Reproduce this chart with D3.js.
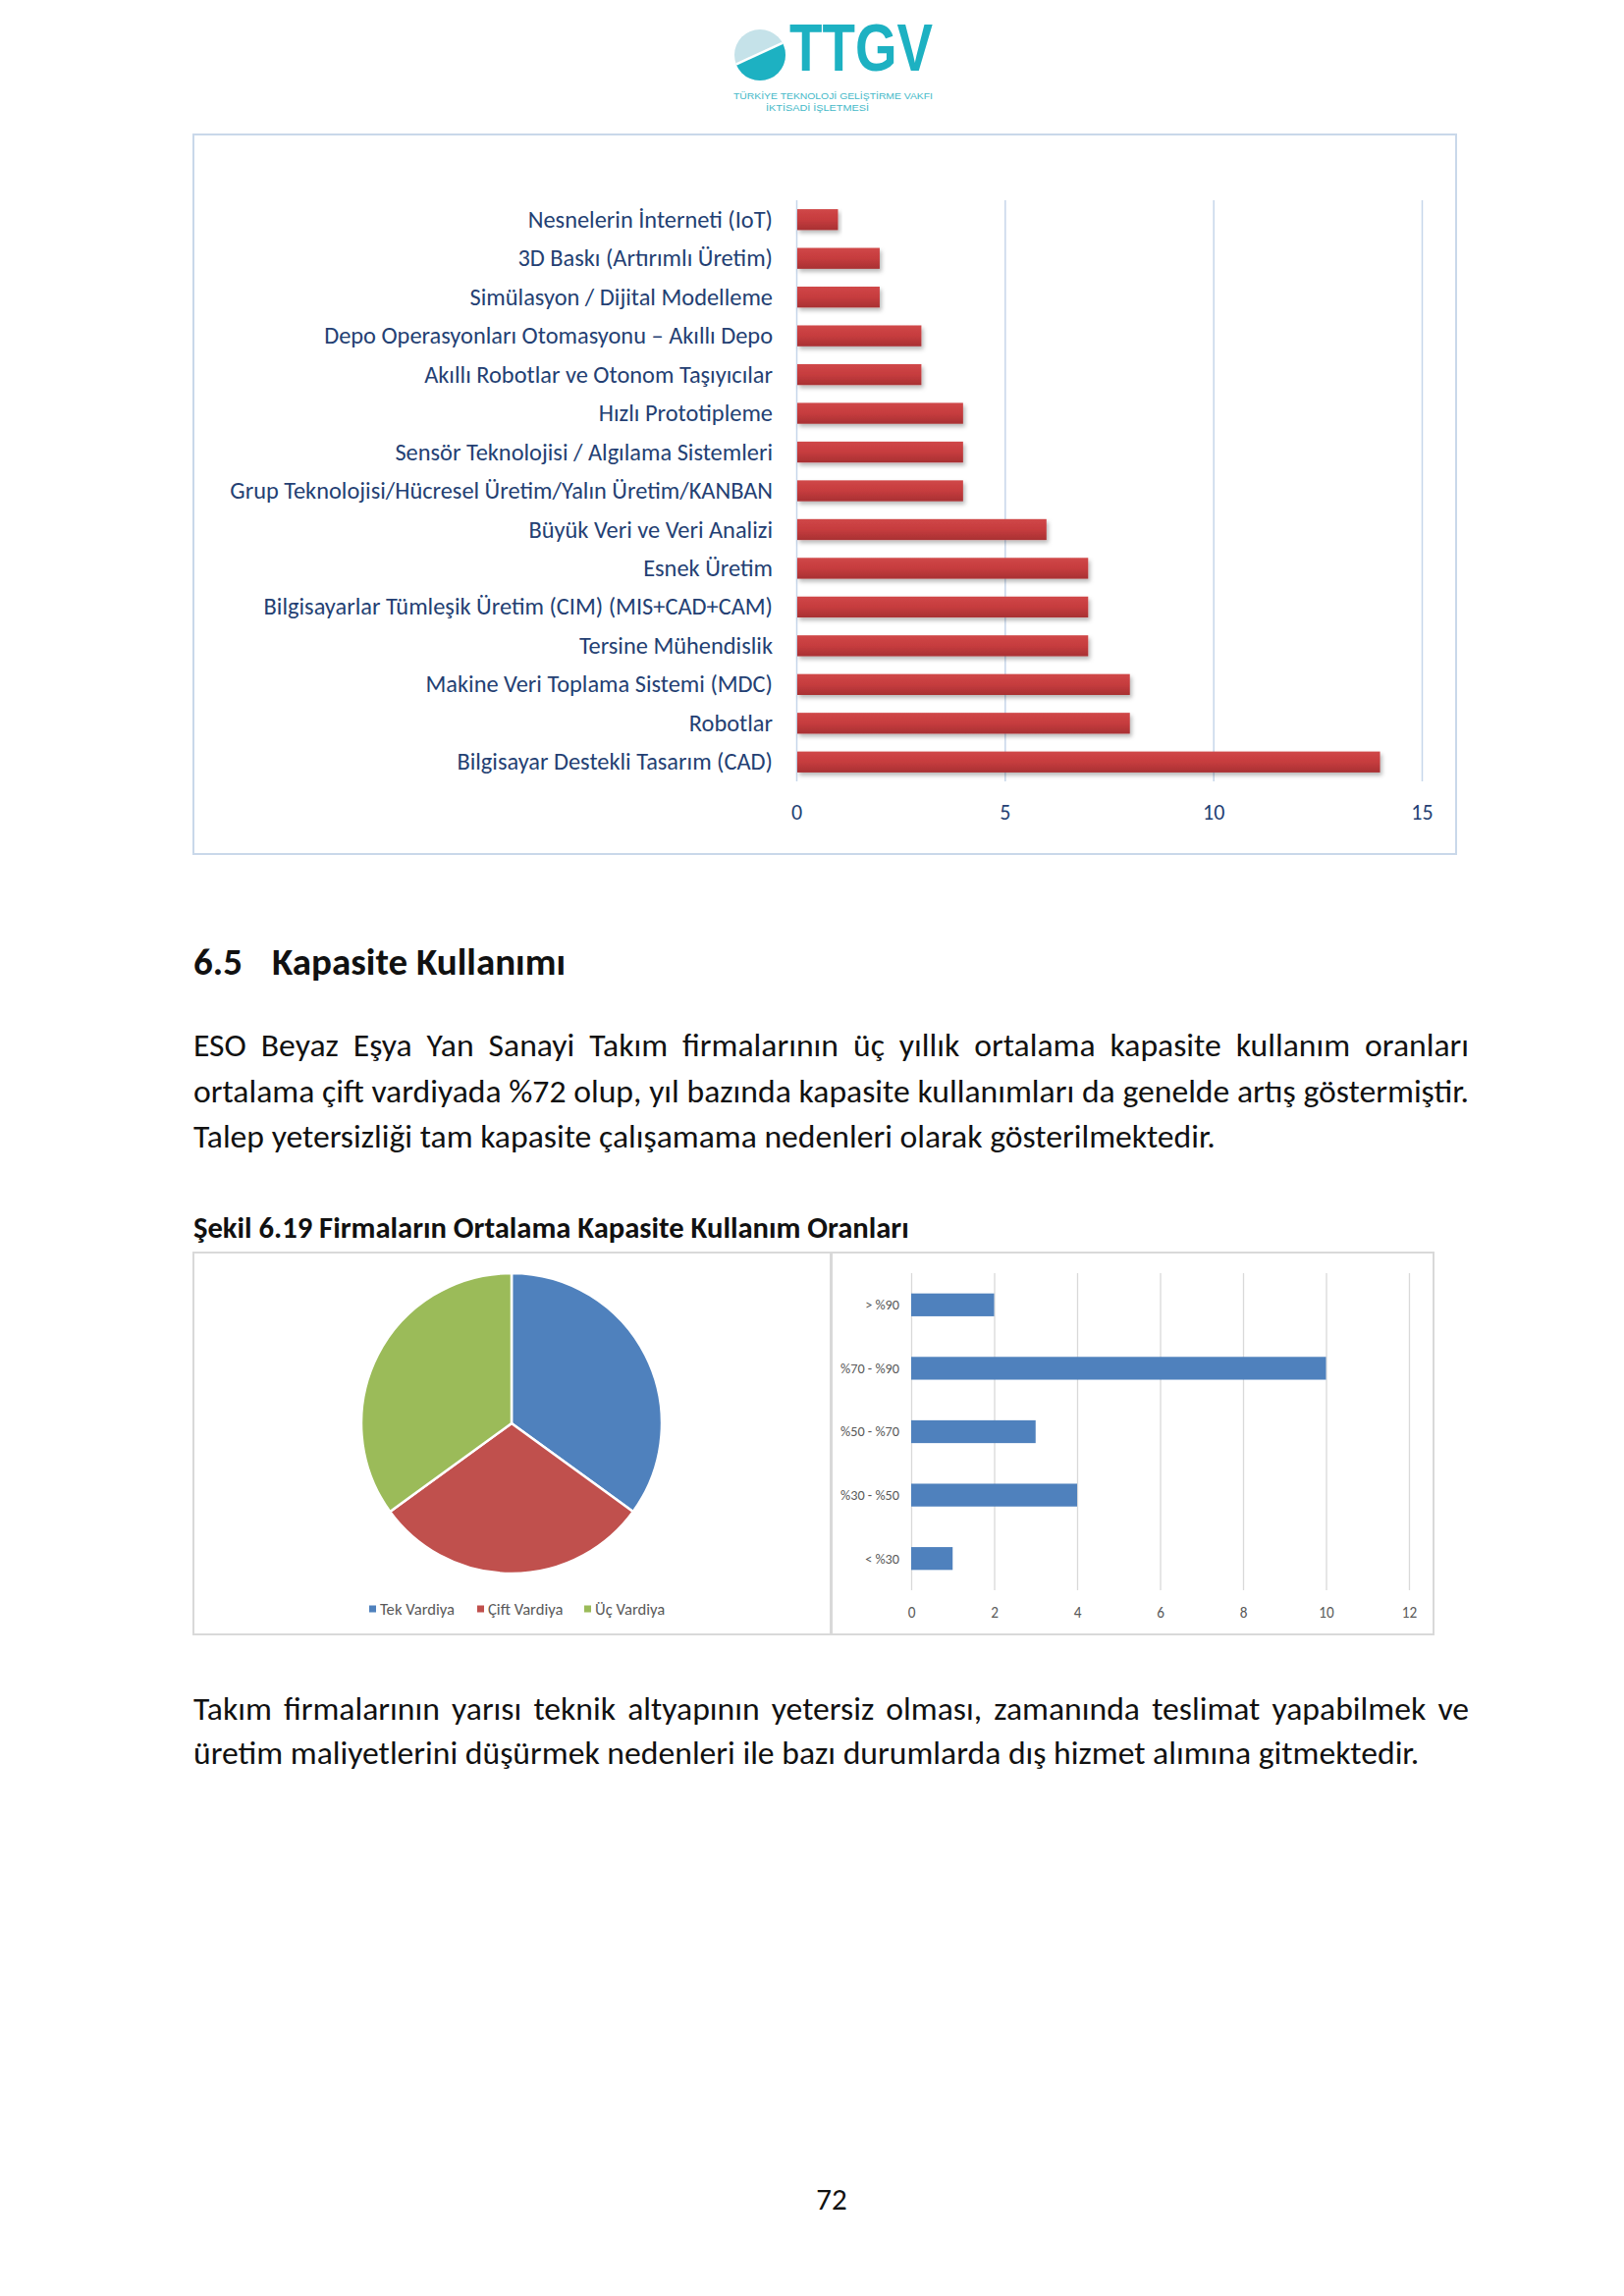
<!DOCTYPE html>
<html><head><meta charset="utf-8">
<script src="https://cdn.jsdelivr.net/npm/d3@7"></script>
<style>body{margin:0;background:#fff}svg{display:block}</style>
</head><body>
<svg id="page" width="1654" height="2339"></svg>
<script>
// ---------- DATA ----------
const techCategories = [
  "Nesnelerin İnterneti (IoT)",
  "3D Baskı (Artırımlı Üretim)",
  "Simülasyon / Dijital Modelleme",
  "Depo Operasyonları Otomasyonu – Akıllı Depo",
  "Akıllı Robotlar ve Otonom Taşıyıcılar",
  "Hızlı Prototipleme",
  "Sensör Teknolojisi / Algılama Sistemleri",
  "Grup Teknolojisi/Hücresel Üretim/Yalın Üretim/KANBAN",
  "Büyük Veri ve Veri Analizi",
  "Esnek Üretim",
  "Bilgisayarlar Tümleşik Üretim (CIM) (MIS+CAD+CAM)",
  "Tersine Mühendislik",
  "Makine Veri Toplama Sistemi (MDC)",
  "Robotlar",
  "Bilgisayar Destekli Tasarım (CAD)"
];
const techValues = [1, 2, 2, 3, 3, 4, 4, 4, 6, 7, 7, 7, 8, 8, 14];
const techTicks = [0, 5, 10, 15];

const shiftCategories = ["Tek Vardiya", "Çift Vardiya", "Üç Vardiya"];
const shiftValues = [7, 6, 7];

const rangeCategories = ["> %90", "%70 - %90", "%50 - %70", "%30 - %50", "< %30"];
const rangeValues = [2, 10, 3, 4, 1];
const rangeTicks = [0, 2, 4, 6, 8, 10, 12];

const logoText = "TTGV";
const logoSub1 = "TÜRKİYE TEKNOLOJİ GELİŞTİRME VAKFI";
const logoSub2 = "İKTİSADİ İŞLETMESİ";
const headingNum = "6.5";
const headingText = "Kapasite Kullanımı";
const para1Lines = [
  "ESO Beyaz Eşya Yan Sanayi Takım firmalarının üç yıllık ortalama kapasite kullanım oranları",
  "ortalama çift vardiyada %72 olup, yıl bazında kapasite kullanımları da genelde artış göstermiştir.",
  "Talep yetersizliği tam kapasite çalışamama nedenleri olarak gösterilmektedir."
];
const captionText = "Şekil 6.19 Firmaların Ortalama Kapasite Kullanım Oranları";
const para2Lines = [
  "Takım firmalarının yarısı teknik altyapının yetersiz olması, zamanında teslimat yapabilmek ve",
  "üretim maliyetlerini düşürmek nedenleri ile bazı durumlarda dış hizmet alımına gitmektedir."
];
const pageNumber = "72";

// ---------- HELPERS ----------
const FONT = "Carlito, Lato, 'Open Sans', sans-serif";
const svg = d3.select("#page").attr("font-family", FONT);
svg.append("rect").attr("width", 1654).attr("height", 2339).attr("fill", "#fff");

function sizeFor(str, baseSize, weight, target) {
  const t = svg.append("text").attr("font-size", baseSize).attr("font-weight", weight).text(str);
  const w = t.node().getComputedTextLength();
  t.remove();
  return baseSize * target / w;
}
function justifyLine(g, str, x0, x1, y, size, weight, justify) {
  const words = str.split(" ");
  const nodes = words.map(w => g.append("text").attr("font-size", size).attr("font-weight", weight)
    .attr("y", y).attr("fill", "#111").text(w));
  const widths = nodes.map(n => n.node().getComputedTextLength());
  const sum = d3.sum(widths);
  const space = size * 0.226;
  const gap = justify ? (x1 - x0 - sum) / (words.length - 1) : space;
  let x = x0;
  nodes.forEach((n, i) => { n.attr("x", x); x += widths[i] + gap; });
}

// ---------- LOGO ----------
const logo = svg.append("g");
const teal = "#1db1c2";
logo.append("clipPath").attr("id", "logoClip").append("circle").attr("cx", 774).attr("cy", 56).attr("r", 26);
logo.append("circle").attr("cx", 774).attr("cy", 56).attr("r", 26).attr("fill", "#c5e2e9");
logo.append("path").attr("clip-path", "url(#logoClip)")
  .attr("d", "M740,70 L805,40 L805,90 L740,90 Z").attr("fill", teal);
logo.append("path").attr("clip-path", "url(#logoClip)")
  .attr("d", "M740,70 L805,40").attr("stroke", "#fff").attr("stroke-width", 2.5);
logo.append("text").attr("x", 804).attr("y", 72).attr("font-family", "'Liberation Sans', Arial, sans-serif")
  .attr("font-weight", "bold").attr("font-size", 68).attr("fill", teal)
  .attr("textLength", 146).attr("lengthAdjust", "spacingAndGlyphs").text(logoText);
logo.append("text").attr("x", 747).attr("y", 101).attr("font-family", "'Liberation Sans', Arial, sans-serif")
  .attr("font-size", 9).attr("fill", "#45b9c8").attr("textLength", 203).attr("lengthAdjust", "spacingAndGlyphs").text(logoSub1);
logo.append("text").attr("x", 780).attr("y", 113).attr("font-family", "'Liberation Sans', Arial, sans-serif")
  .attr("font-size", 9).attr("fill", "#45b9c8").attr("textLength", 105).attr("lengthAdjust", "spacingAndGlyphs").text(logoSub2);

// ---------- TOP CHART ----------
const defs = svg.append("defs");
const grad = defs.append("linearGradient").attr("id", "redGrad").attr("x1", 0).attr("y1", 0).attr("x2", 0).attr("y2", 1);
grad.append("stop").attr("offset", "0%").attr("stop-color", "#d04748");
grad.append("stop").attr("offset", "50%").attr("stop-color", "#c63c3e");
grad.append("stop").attr("offset", "100%").attr("stop-color", "#a83133");
const sh = defs.append("filter").attr("id", "shadow").attr("x", "-5%").attr("y", "-30%").attr("width", "115%").attr("height", "190%");
sh.append("feDropShadow").attr("dx", 2).attr("dy", 3).attr("stdDeviation", 2).attr("flood-color", "#000").attr("flood-opacity", 0.28);

svg.append("rect").attr("x", 197).attr("y", 137).attr("width", 1286).attr("height", 733)
  .attr("fill", "none").attr("stroke", "#c9d8ea").attr("stroke-width", 2);

const x1 = d3.scaleLinear().domain([0, 15]).range([811, 1448]);
const y1 = d3.scaleBand().domain(techCategories).range([204, 796]).paddingInner(0.46).paddingOuter(0.23);
const labelColor = "#243f73";

const ax1 = svg.append("g").attr("transform", "translate(0,796)")
  .call(d3.axisBottom(x1).tickValues(techTicks).tickSize(-592).tickPadding(23).tickFormat(d3.format("d")));
ax1.select(".domain").remove();
ax1.selectAll(".tick line").attr("stroke", "#c6d6ea").attr("stroke-width", 1.5);
ax1.selectAll(".tick text").attr("font-family", FONT).attr("font-size", 22).attr("fill", labelColor);

svg.append("g").selectAll("rect").data(techValues).join("rect")
  .attr("x", x1(0) + 1)
  .attr("y", (d, i) => y1(techCategories[i]))
  .attr("width", d => x1(d) - x1(0) - 1)
  .attr("height", y1.bandwidth())
  .attr("fill", "url(#redGrad)").attr("filter", "url(#shadow)");

const techLabelSize = sizeFor(techCategories[7], 20, "normal", 553);
svg.append("g").selectAll("text").data(techCategories).join("text")
  .attr("x", 787).attr("y", d => y1(d) + y1.bandwidth() / 2).attr("dy", "0.33em")
  .attr("text-anchor", "end").attr("font-size", techLabelSize).attr("fill", labelColor).text(d => d);

// ---------- HEADING & PARAGRAPH ----------
const hSize = sizeFor(headingText, 39, "bold", 299);
svg.append("text").attr("x", 197).attr("y", 993).attr("font-weight", "bold").attr("font-size", hSize).attr("fill", "#111").text(headingNum);
svg.append("text").attr("x", 277).attr("y", 993).attr("font-weight", "bold").attr("font-size", hSize).attr("fill", "#111").text(headingText);

const bodySize = sizeFor(para1Lines[2], 33, "normal", 1041);
const p1 = svg.append("g");
const p1Base = [1076, 1123, 1169];
para1Lines.forEach((l, i) => justifyLine(p1, l, 197, 1496, p1Base[i], bodySize, "normal", i < 2));

const capSize = sizeFor(captionText, 28, "bold", 729);
svg.append("text").attr("x", 197).attr("y", 1261).attr("font-weight", "bold").attr("font-size", capSize).attr("fill", "#111").text(captionText);

// ---------- PIE ----------
svg.append("rect").attr("x", 197).attr("y", 1276).attr("width", 649).attr("height", 389)
  .attr("fill", "none").attr("stroke", "#d9d9d9").attr("stroke-width", 2);
svg.append("rect").attr("x", 847).attr("y", 1276).attr("width", 613).attr("height", 389)
  .attr("fill", "none").attr("stroke", "#d9d9d9").attr("stroke-width", 2);

const pieColors = ["#4f81bd", "#c0504d", "#9bbb59"];
const pie = d3.pie().sort(null).value(d => d)(shiftValues);
const arc = d3.arc().innerRadius(0).outerRadius(153);
svg.append("g").attr("transform", "translate(521,1450)").selectAll("path").data(pie).join("path")
  .attr("d", arc).attr("fill", (d, i) => pieColors[i]).attr("stroke", "#fff").attr("stroke-width", 2.5);

const legX = [376, 486, 595];
const legSize = sizeFor(shiftCategories[0], 15, "normal", 76);
const leg = svg.append("g").selectAll("g").data(shiftCategories).join("g")
  .attr("transform", (d, i) => `translate(${legX[i]},1639)`);
leg.append("rect").attr("x", 0).attr("y", -3.5).attr("width", 7).attr("height", 7).attr("fill", (d, i) => pieColors[i]);
leg.append("text").attr("x", 11).attr("dy", "0.35em").attr("font-size", legSize).attr("fill", "#595959").text(d => d);

// ---------- RIGHT BAR CHART ----------
const x2 = d3.scaleLinear().domain([0, 12]).range([928, 1435]);
const y2 = d3.scaleBand().domain(rangeCategories).range([1297, 1620]).paddingInner(0.64).paddingOuter(0.32);
const smallSize = sizeFor(rangeCategories[1], 15, "normal", 60);
const ax2 = svg.append("g").attr("transform", "translate(0,1620)")
  .call(d3.axisBottom(x2).tickValues(rangeTicks).tickSize(-323).tickPadding(17).tickFormat(d3.format("d")));
ax2.select(".domain").remove();
ax2.selectAll(".tick line").attr("stroke", "#d9d9d9").attr("stroke-width", 1.3);
ax2.selectAll(".tick text").attr("font-family", FONT).attr("font-size", smallSize + 1).attr("fill", "#595959");

svg.append("g").selectAll("rect").data(rangeValues).join("rect")
  .attr("x", x2(0)).attr("y", (d, i) => y2(rangeCategories[i]))
  .attr("width", d => x2(d) - x2(0)).attr("height", y2.bandwidth()).attr("fill", "#4f81bd");

svg.append("g").selectAll("text").data(rangeCategories).join("text")
  .attr("x", 916).attr("y", d => y2(d) + y2.bandwidth() / 2).attr("dy", "0.35em")
  .attr("text-anchor", "end").attr("font-size", smallSize).attr("fill", "#595959").text(d => d);

// ---------- BOTTOM PARAGRAPH ----------
const p2 = svg.append("g");
const p2Base = [1752, 1797];
para2Lines.forEach((l, i) => justifyLine(p2, l, 197, 1496, p2Base[i], bodySize, "normal", i < 1));

svg.append("text").attr("x", 847).attr("y", 2251).attr("text-anchor", "middle").attr("font-size", 31).attr("fill", "#111").text(pageNumber);
</script>
</body></html>
